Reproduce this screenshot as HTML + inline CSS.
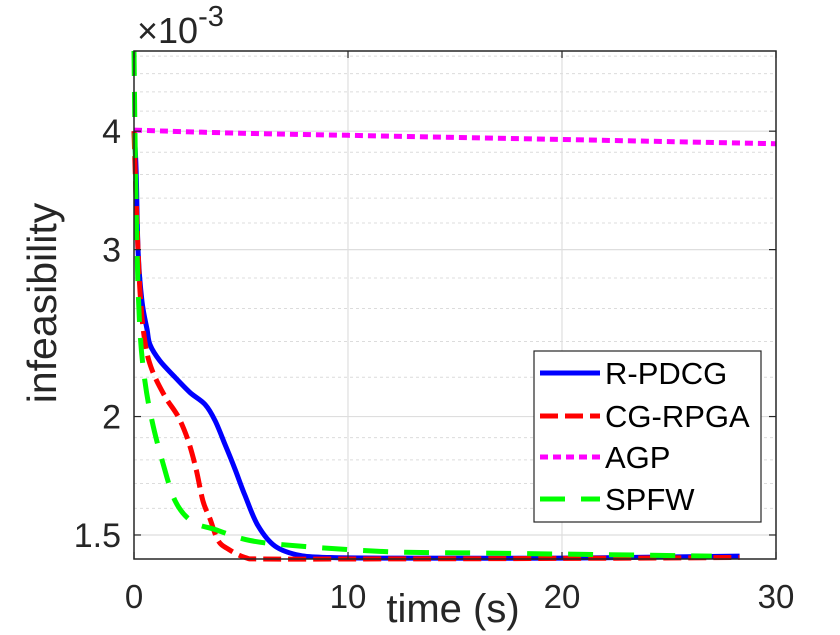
<!DOCTYPE html>
<html><head><meta charset="utf-8"><style>
html,body{margin:0;padding:0;background:#fff;}
svg{display:block;font-family:"Liberation Sans",Arial,sans-serif;}
</style></head><body>
<svg id="chart" width="840" height="635" viewBox="0 0 840 635">
<g id="grid"></g>
<g id="series"></g>
<g id="axes"></g>
</svg>
<script>
const xTicks=[0,10,20,30];
const yTicks=[1.5,2,3,4];
const yTickLabels=["1.5","2","3","4"];
const yMinor=[1.6,1.7,1.8,1.9,2.2,2.4,2.6,2.8,3.2,3.4,3.6,3.8,4.2,4.4,4.6,4.8];
const seriesNames=["R-PDCG","CG-RPGA","AGP","SPFW"];
const tBlue=[0,0.1,0.19,0.37,0.61,0.75,1.21,1.92,2.62,3.32,3.79,4.25,4.72,5.19,5.79,6.59,7.76,9.16,12,20,28.3];
const yBlue=[4.0,3.64,2.99,2.65,2.47,2.38,2.29,2.2,2.12,2.06,1.98,1.87,1.76,1.65,1.535,1.46,1.427,1.42,1.418,1.418,1.425];
const tRed=[0,0.1,0.28,0.51,0.84,1.45,2.06,2.52,2.9,3.22,3.55,3.93,4.39,5.19,6,10,20,28.3];
const yRed=[4.0,3.4,2.71,2.4,2.24,2.1,2.0,1.89,1.76,1.63,1.56,1.48,1.45,1.42,1.415,1.415,1.417,1.42];
const tAgp=[0,5,10,15,20,25,30];
const yAgp=[4.01,3.98,3.96,3.94,3.92,3.9,3.88];
const tGreen=[0,0.05,0.14,0.28,0.51,0.84,1.31,1.92,2.71,3.79,5.42,7.76,12,17,22,27];
const yGreen=[4.86,3.9,3.0,2.46,2.18,1.98,1.8,1.63,1.55,1.52,1.48,1.46,1.44,1.435,1.43,1.425];

const L=134,R=776,T=51,B=559,X0=0,X1=30;
const Y0=1.415,Y1=4.86;
const NS="http://www.w3.org/2000/svg";
function sx(t){return L+(t-X0)/(X1-X0)*(R-L);}
function sy(v){return B-(Math.log10(v)-Math.log10(Y0))/(Math.log10(Y1)-Math.log10(Y0))*(B-T);}
function mk(tag,attrs,parent){const e=document.createElementNS(NS,tag);for(const k in attrs)e.setAttribute(k,attrs[k]);parent.appendChild(e);return e;}
const grid=document.getElementById('grid'),ser=document.getElementById('series'),ax=document.getElementById('axes');
yMinor.forEach(v=>{const l=mk('line',{x1:L,x2:R,y1:sy(v),y2:sy(v),stroke:'#dcdcdc','stroke-width':1,'stroke-dasharray':'3,3'},grid);

});
yTicks.forEach(v=>{const l=mk('line',{x1:L,x2:R,y1:sy(v),y2:sy(v),stroke:'#dedede','stroke-width':1.2},grid);

});
xTicks.slice(1,-1).forEach(t=>{const l=mk('line',{x1:sx(t),x2:sx(t),y1:T,y2:B,stroke:'#dedede','stroke-width':1.2},grid);

});
function path(ts,vs){
 const p=ts.map((t,i)=>[sx(t),sy(vs[i])]);
 let d='M'+p[0][0].toFixed(1)+','+p[0][1].toFixed(1);
 for(let i=0;i<p.length-1;i++){
  const p0=p[i-1]||p[i],p1=p[i],p2=p[i+1],p3=p[i+2]||p2;
  const c1=[p1[0]+(p2[0]-p0[0])/6,p1[1]+(p2[1]-p0[1])/6];
  const c2=[p2[0]-(p3[0]-p1[0])/6,p2[1]-(p3[1]-p1[1])/6];
  d+=' C'+c1.map(n=>n.toFixed(1))+' '+c2.map(n=>n.toFixed(1))+' '+p2.map(n=>n.toFixed(1));
 }
 return d;}
const styles=[
 {t:tBlue,v:yBlue,c:'#0000ff',d:''},
 {t:tRed,v:yRed,c:'#ff0000',d:'18,7'},
 {t:tAgp,v:yAgp,c:'#ff00ff',d:'8,5'},
 {t:tGreen,v:yGreen,c:'#00ff00',d:'25,16'}];
const order=[2,0,1,3];
order.forEach(i=>{const s=styles[i];const p=mk('path',{d:path(s.t,s.v),fill:'none',stroke:s.c,'stroke-width':5,'stroke-dasharray':s.d,'stroke-linejoin':'round'},ser);

});
mk('rect',{x:L,y:T,width:R-L,height:B-T,fill:'none',stroke:'#262626','stroke-width':1.5},ax);
yTicks.forEach((v,i)=>{mk('line',{x1:L,x2:L+7,y1:sy(v),y2:sy(v),stroke:'#262626','stroke-width':1.2},ax);
mk('line',{x1:R,x2:R-7,y1:sy(v),y2:sy(v),stroke:'#262626','stroke-width':1.2},ax);
const tx=mk('text',{x:121,y:sy(v)+12,'text-anchor':'end','font-size':34,fill:'#262626'},ax);tx.textContent=yTickLabels[i];

});
xTicks.forEach(t=>{mk('line',{x1:sx(t),x2:sx(t),y1:B,y2:B-7,stroke:'#262626','stroke-width':1.2},ax);
mk('line',{x1:sx(t),x2:sx(t),y1:T,y2:T+7,stroke:'#262626','stroke-width':1.2},ax);
const tx=mk('text',{x:sx(t),y:608,'text-anchor':'middle','font-size':33,fill:'#262626'},ax);tx.textContent=String(t);

});
const ex=mk('text',{x:137,y:43,'font-size':36,fill:'#262626'},ax);ex.innerHTML='×10<tspan dy="-17" font-size="29">-3</tspan>';


const xl=mk('text',{x:453,y:622,'text-anchor':'middle','font-size':40,fill:'#262626'},ax);xl.textContent='time (s)';


const yl=mk('text',{x:0,y:0,'text-anchor':'middle','font-size':41,fill:'#262626',transform:'translate(56,303) rotate(-90)'},ax);yl.textContent='infeasibility';


const lg=mk('g',{},ax);


mk('rect',{x:534,y:351,width:227,height:171,fill:'#fff',stroke:'#262626','stroke-width':1.2},lg);
const ly=[373,416,457,499];
seriesNames.forEach((n,i)=>{const s=styles[i];
const ln=mk('line',{x1:540,x2:600,y1:ly[i],y2:ly[i],stroke:s.c,'stroke-width':5,'stroke-dasharray':s.d},lg);


const tx=mk('text',{x:605,y:ly[i]+11,'font-size':31,fill:'#000'},lg);tx.textContent=n;

});
</script>
</body></html>
